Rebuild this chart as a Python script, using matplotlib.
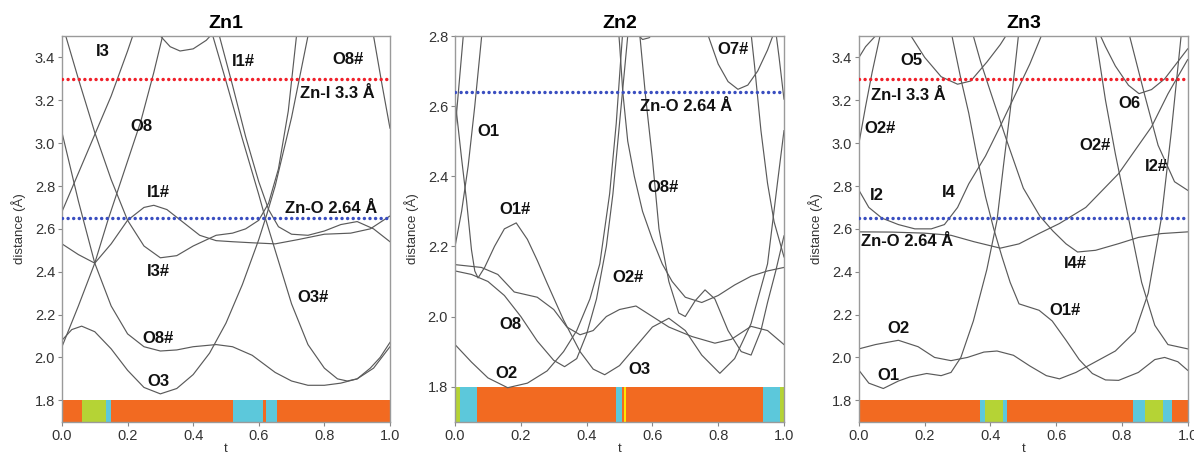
import matplotlib
matplotlib.use("Agg")
import matplotlib.pyplot as plt

plt.rcParams['font.family'] = ['Liberation Sans', 'DejaVu Sans']

# ---------------- Zn1 curves (t, distance) ----------------
zn1_i3_t = [0, 0.05, 0.1, 0.15, 0.2, 0.25, 0.3, 0.35, 0.4, 0.47, 0.52, 0.56, 0.6, 0.63, 0.66, 0.69, 0.715, 0.725]
zn1_i3_d = [3.56, 3.30, 3.05, 2.83, 2.64, 2.52, 2.465, 2.475, 2.52, 2.57, 2.58, 2.6, 2.64, 2.72, 2.88, 3.15, 3.5, 3.6]
zn1_i1_t = [0, 0.05, 0.1, 0.15, 0.2, 0.25, 0.28, 0.32, 0.37, 0.42, 0.47, 0.52, 0.58, 0.65, 0.72, 0.8, 0.88, 0.94, 1.0]
zn1_i1_d = [2.53, 2.48, 2.44, 2.53, 2.64, 2.70, 2.71, 2.69, 2.63, 2.57, 2.545, 2.54, 2.535, 2.53, 2.55, 2.575, 2.58, 2.6, 2.66]
zn1_o8_t = [0, 0.05, 0.1, 0.14, 0.19, 0.24, 0.28, 0.31]
zn1_o8_d = [2.05, 2.24, 2.44, 2.64, 2.87, 3.1, 3.33, 3.52]
zn1_o8h_t = [0, 0.05, 0.1, 0.15, 0.2, 0.25, 0.3, 0.35, 0.4, 0.47, 0.52, 0.58, 0.65, 0.7, 0.75, 0.8, 0.85, 0.9, 0.95, 1.0]
zn1_o8h_d = [3.05, 2.73, 2.44, 2.24, 2.11, 2.05, 2.03, 2.035, 2.05, 2.06, 2.05, 2.01, 1.93, 1.89, 1.87, 1.87, 1.88, 1.9, 1.95, 2.05]
zn1_o3_t = [0, 0.03, 0.06, 0.1, 0.15, 0.2, 0.25, 0.3, 0.35, 0.4, 0.45, 0.5, 0.55, 0.6, 0.625, 0.65, 0.7, 0.75, 0.76]
zn1_o3_d = [2.08, 2.13, 2.146, 2.12, 2.04, 1.94, 1.86, 1.83, 1.855, 1.92, 2.02, 2.16, 2.34, 2.55, 2.67, 2.8, 3.12, 3.5, 3.58]
zn1_o3h_t = [0.44, 0.46, 0.5, 0.55, 0.6, 0.62, 0.65, 0.7, 0.75, 0.8, 0.84, 0.87, 0.9, 0.94, 0.97, 1.0]
zn1_o3h_d = [3.6, 3.5, 3.29, 3.02, 2.76, 2.65, 2.5, 2.25, 2.06, 1.95, 1.9, 1.89, 1.9, 1.95, 2.0, 2.07]
zn1_i1b_t = [0.46, 0.48, 0.52, 0.56, 0.6, 0.63, 0.66, 0.7, 0.75, 0.8, 0.85, 0.9, 0.95, 1.0]
zn1_i1b_d = [3.62, 3.5, 3.27, 3.03, 2.82, 2.69, 2.61, 2.575, 2.57, 2.59, 2.62, 2.634, 2.6, 2.54]
zn1_arc_t = [0.26, 0.3, 0.33, 0.36, 0.4, 0.44, 0.47]
zn1_arc_d = [3.62, 3.5, 3.45, 3.43, 3.44, 3.48, 3.53]
zn1_r1_t = [0, 0.05, 0.1, 0.15, 0.2, 0.22]
zn1_r1_d = [2.68, 2.86, 3.04, 3.22, 3.43, 3.52]
zn1_r2_t = [0.93, 0.95, 0.975, 1.0]
zn1_r2_d = [3.62, 3.5, 3.28, 3.07]

# ---------------- Zn2 curves ----------------
zn2_s1_t = [0, 0.012, 0.025, 0.032]
zn2_s1_d = [2.53, 2.66, 2.8, 2.88]
zn2_s2_t = [0, 0.02, 0.04, 0.06, 0.081, 0.09]
zn2_s2_d = [2.2, 2.3, 2.43, 2.6, 2.8, 2.9]
zn2_o1h_t = [0, 0.02, 0.035, 0.05, 0.06, 0.07, 0.09, 0.12, 0.15, 0.186, 0.22, 0.25, 0.28, 0.33, 0.38, 0.42, 0.455,
             0.5, 0.55, 0.6, 0.65, 0.7, 0.75, 0.805, 0.85, 0.9, 0.95, 0.98, 1.0]
zn2_o1h_d = [2.62, 2.45, 2.33, 2.19, 2.13, 2.11, 2.14, 2.2, 2.25, 2.267, 2.22, 2.16, 2.095, 1.99, 1.9, 1.85, 1.834,
             1.86, 1.915, 1.97, 1.995, 1.96, 1.89, 1.838, 1.88, 1.98, 2.15, 2.38, 2.53]
zn2_o8_t = [0, 0.08, 0.13, 0.18, 0.25, 0.3, 0.34, 0.38, 0.42, 0.46, 0.5, 0.55, 0.6, 0.65, 0.72, 0.79, 0.84, 0.9, 0.95, 1.0]
zn2_o8_d = [2.148, 2.14, 2.12, 2.07, 2.055, 2.02, 1.97, 1.948, 1.96, 2.0, 2.02, 2.03, 2.0, 1.97, 1.943, 1.924, 1.935, 1.972, 1.96, 1.92]
zn2_o2_t = [0, 0.05, 0.1, 0.16, 0.22, 0.28, 0.33, 0.37, 0.41, 0.44, 0.47, 0.49, 0.505, 0.515]
zn2_o2_d = [1.92, 1.87, 1.825, 1.797, 1.81, 1.845, 1.9, 1.96, 2.05, 2.15, 2.35, 2.55, 2.75, 2.88]
zn2_w3_t = [0, 0.05, 0.1, 0.15, 0.2, 0.25, 0.3, 0.333, 0.37, 0.4, 0.43, 0.46, 0.48, 0.5, 0.515, 0.53]
zn2_w3_d = [2.13, 2.12, 2.1, 2.06, 2.0, 1.93, 1.875, 1.857, 1.88, 1.95, 2.05, 2.2, 2.35, 2.55, 2.7, 2.85]
zn2_o8h_t = [0.49, 0.5, 0.51, 0.525, 0.545, 0.57, 0.6, 0.63, 0.66, 0.7, 0.75, 0.8, 0.85, 0.9, 0.95, 1.0]
zn2_o8h_d = [2.9, 2.78, 2.64, 2.5, 2.4, 2.3, 2.22, 2.15, 2.1, 2.055, 2.04, 2.06, 2.09, 2.115, 2.13, 2.14]
zn2_o2h_t = [0.545, 0.562, 0.58, 0.6, 0.62, 0.65, 0.68, 0.7, 0.73, 0.76, 0.79, 0.83, 0.87, 0.9, 0.93, 0.95, 0.975, 1.0]
zn2_o2h_d = [2.95, 2.8, 2.62, 2.45, 2.25, 2.1, 2.01, 2.0, 2.045, 2.076, 2.05, 1.96, 1.9, 1.89, 1.96, 2.04, 2.13, 2.23]
zn2_arc_t = [0.535, 0.55, 0.57, 0.59, 0.605, 0.615]
zn2_arc_d = [2.85, 2.81, 2.79, 2.795, 2.81, 2.85]
zn2_o7_t = [0.755, 0.77, 0.8, 0.83, 0.86, 0.89, 0.92, 0.95, 0.97, 0.985]
zn2_o7_d = [2.86, 2.8, 2.72, 2.67, 2.648, 2.66, 2.7, 2.76, 2.81, 2.86]
zn2_rc_t = [0.895, 0.91, 0.93, 0.95, 0.97, 1.0]
zn2_rc_d = [2.85, 2.72, 2.53, 2.38, 2.27, 2.17]
zn2_rd_t = [0.955, 0.97, 0.985, 1.0]
zn2_rd_d = [3.0, 2.85, 2.74, 2.62]

# ---------------- Zn3 curves ----------------
zn3_arc_t = [0, 0.02, 0.05, 0.07]
zn3_arc_d = [3.4, 3.45, 3.5, 3.54]
zn3_o2hl_t = [0, 0.02, 0.04, 0.064, 0.075]
zn3_o2hl_d = [3.0, 3.17, 3.33, 3.5, 3.58]
zn3_i2_t = [0, 0.03, 0.07, 0.12, 0.17, 0.22, 0.26, 0.3, 0.334, 0.385, 0.43, 0.486, 0.52, 0.56, 0.58]
zn3_i2_d = [2.78, 2.7, 2.65, 2.62, 2.6, 2.6, 2.62, 2.7, 2.81, 2.94, 3.08, 3.26, 3.37, 3.52, 3.6]
zn3_wav_t = [0, 0.1, 0.2, 0.28, 0.35, 0.43, 0.487, 0.55, 0.61, 0.69, 0.79, 0.89, 0.94, 1.0]
zn3_wav_d = [2.586, 2.585, 2.58, 2.57, 2.54, 2.51, 2.53, 2.58, 2.625, 2.70, 2.858, 3.076, 3.23, 3.39]
zn3_o1_t = [0, 0.03, 0.074, 0.12, 0.155, 0.206, 0.25, 0.28, 0.31, 0.348, 0.389, 0.42, 0.44, 0.46, 0.485, 0.495]
zn3_o1_d = [1.94, 1.88, 1.855, 1.89, 1.909, 1.925, 1.915, 1.93, 2.0, 2.17, 2.41, 2.64, 2.9, 3.15, 3.5, 3.6]
zn3_o2_t = [0, 0.05, 0.12, 0.18, 0.23, 0.28, 0.33, 0.38, 0.42, 0.47, 0.52, 0.57, 0.61, 0.66, 0.72, 0.78, 0.84, 0.88, 0.92, 0.95, 0.97, 0.99]
zn3_o2_d = [2.04, 2.06, 2.08, 2.05, 2.0, 1.985, 2.0, 2.025, 2.03, 2.01, 1.96, 1.915, 1.9, 1.93, 1.98, 2.03, 2.12, 2.3, 2.65, 3.05, 3.35, 3.65]
zn3_o1h_t = [0.27, 0.283, 0.31, 0.334, 0.36, 0.385, 0.41, 0.435, 0.46, 0.487, 0.548, 0.588, 0.63, 0.67, 0.71, 0.75, 0.79,
             0.85, 0.9, 0.93, 0.97, 1.0]
zn3_o1h_d = [3.6, 3.5, 3.3, 3.14, 2.93, 2.75, 2.6, 2.47, 2.35, 2.25, 2.22, 2.17, 2.08, 1.99, 1.925, 1.895, 1.893,
             1.93, 1.99, 2.0, 1.98, 1.94]
zn3_i4h_t = [0.33, 0.343, 0.37, 0.4, 0.45, 0.5, 0.55, 0.59, 0.63, 0.665, 0.72, 0.79, 0.85, 0.92, 1.0]
zn3_i4h_d = [3.6, 3.527, 3.38, 3.24, 3.01, 2.79, 2.66, 2.59, 2.53, 2.492, 2.5, 2.531, 2.56, 2.578, 2.586]
zn3_o5_t = [0.14, 0.15, 0.2, 0.25, 0.3, 0.34, 0.39, 0.43, 0.455, 0.47]
zn3_o5_d = [3.58, 3.52, 3.4, 3.31, 3.275, 3.29, 3.38, 3.46, 3.52, 3.56]
zn3_o6_t = [0.72, 0.75, 0.78, 0.82, 0.852, 0.89, 0.93, 0.97, 1.0]
zn3_o6_d = [3.55, 3.45, 3.36, 3.27, 3.231, 3.25, 3.3, 3.38, 3.44]
zn3_d1_t = [0.71, 0.72, 0.75, 0.78, 0.82, 0.86, 0.9, 0.94, 1.0]
zn3_d1_d = [3.6, 3.5, 3.2, 2.95, 2.65, 2.35, 2.15, 2.06, 2.04]
zn3_d2_t = [0.8, 0.82, 0.87, 0.91, 0.96, 1.0]
zn3_d2_d = [3.65, 3.52, 3.22, 2.99, 2.82, 2.78]

# ---------------- coordination colour bars (segment edges / colours) ----------------
ORANGE, GREEN, CYAN, YELLOW = '#F26A21', '#B5D335', '#5CC8DB', '#FFE600'
zn1_bar_edges = [0, 0.06, 0.134, 0.151, 0.52, 0.614, 0.621, 0.657, 1.0]
zn1_bar_cols = [ORANGE, GREEN, CYAN, ORANGE, CYAN, ORANGE, CYAN, ORANGE]
zn2_bar_edges = [0, 0.015, 0.066, 0.489, 0.508, 0.513, 0.521, 0.526, 0.937, 0.988, 1.0]
zn2_bar_cols = [GREEN, CYAN, ORANGE, CYAN, ORANGE, YELLOW, ORANGE, ORANGE, CYAN, GREEN]
zn3_bar_edges = [0, 0.368, 0.383, 0.439, 0.451, 0.835, 0.87, 0.926, 0.951, 1.0]
zn3_bar_cols = [ORANGE, CYAN, GREEN, CYAN, ORANGE, CYAN, GREEN, CYAN, ORANGE]

# ---------------- labels ----------------
zn1_labels = [("I3", 0.125, 3.43), ("I1#", 0.553, 3.38), ("O8#", 0.873, 3.39), ("Zn-I 3.3 Å", 0.84, 3.23),
              ("O8", 0.243, 3.076), ("I1#", 0.293, 2.77), ("Zn-O 2.64 Å", 0.822, 2.696), ("I3#", 0.293, 2.40),
              ("O3#", 0.766, 2.28), ("O8#", 0.293, 2.09), ("O3", 0.293, 1.89)]
zn2_labels = [("O7#", 0.846, 2.762), ("Zn-O 2.64 Å", 0.704, 2.60), ("O1", 0.101, 2.529), ("O8#", 0.633, 2.367),
              ("O1#", 0.182, 2.305), ("O2#", 0.527, 2.11), ("O8", 0.167, 1.976), ("O2", 0.157, 1.838),
              ("O3", 0.562, 1.848)]
zn3_labels = [("O5", 0.16, 3.387), ("Zn-I 3.3 Å", 0.15, 3.224), ("O2#", 0.064, 3.068), ("O6", 0.824, 3.185),
              ("O2#", 0.718, 2.99), ("I2#", 0.906, 2.889), ("I2", 0.054, 2.757), ("I4", 0.272, 2.772),
              ("Zn-O 2.64 Å", 0.145, 2.539), ("I4#", 0.657, 2.438), ("O1#", 0.627, 2.22), ("O2", 0.12, 2.135),
              ("O1", 0.089, 1.917)]

panels = [
    dict(title="Zn1", rect=[0.0519, 0.0711, 0.2747, 0.8496], ylim=(1.7, 3.5),
         yticks=[1.8, 2.0, 2.2, 2.4, 2.6, 2.8, 3.0, 3.2, 3.4],
         curves=[(zn1_i3_t, zn1_i3_d), (zn1_i1_t, zn1_i1_d), (zn1_o8_t, zn1_o8_d), (zn1_o8h_t, zn1_o8h_d),
                 (zn1_o3_t, zn1_o3_d), (zn1_o3h_t, zn1_o3h_d), (zn1_i1b_t, zn1_i1b_d), (zn1_arc_t, zn1_arc_d),
                 (zn1_r1_t, zn1_r1_d), (zn1_r2_t, zn1_r2_d)],
         hlines=[(3.3, '#F0202A'), (2.65, '#3A4EC0')],
         bar=(zn1_bar_edges, zn1_bar_cols), labels=zn1_labels),
    dict(title="Zn2", rect=[0.3811, 0.0711, 0.2755, 0.8496], ylim=(1.7, 2.8),
         yticks=[1.8, 2.0, 2.2, 2.4, 2.6, 2.8],
         curves=[(zn2_s1_t, zn2_s1_d), (zn2_s2_t, zn2_s2_d), (zn2_o1h_t, zn2_o1h_d), (zn2_o8_t, zn2_o8_d),
                 (zn2_o2_t, zn2_o2_d), (zn2_w3_t, zn2_w3_d), (zn2_o8h_t, zn2_o8h_d), (zn2_o2h_t, zn2_o2h_d),
                 (zn2_arc_t, zn2_arc_d), (zn2_o7_t, zn2_o7_d), (zn2_rc_t, zn2_rc_d), (zn2_rd_t, zn2_rd_d)],
         hlines=[(2.64, '#3A4EC0')],
         bar=(zn2_bar_edges, zn2_bar_cols), labels=zn2_labels),
    dict(title="Zn3", rect=[0.7194, 0.0711, 0.2753, 0.8496], ylim=(1.7, 3.5),
         yticks=[1.8, 2.0, 2.2, 2.4, 2.6, 2.8, 3.0, 3.2, 3.4],
         curves=[(zn3_arc_t, zn3_arc_d), (zn3_o2hl_t, zn3_o2hl_d), (zn3_i2_t, zn3_i2_d), (zn3_wav_t, zn3_wav_d),
                 (zn3_o1_t, zn3_o1_d), (zn3_o2_t, zn3_o2_d), (zn3_o1h_t, zn3_o1h_d), (zn3_i4h_t, zn3_i4h_d),
                 (zn3_o5_t, zn3_o5_d), (zn3_o6_t, zn3_o6_d), (zn3_d1_t, zn3_d1_d), (zn3_d2_t, zn3_d2_d)],
         hlines=[(3.3, '#F0202A'), (2.65, '#3A4EC0')],
         bar=(zn3_bar_edges, zn3_bar_cols), labels=zn3_labels),
]

fig = plt.figure(figsize=(11.94, 4.54), dpi=100)
for p in panels:
    ax = fig.add_axes(p['rect'])
    ax.set_xlim(0, 1.0)
    ax.set_ylim(*p['ylim'])
    # colour bar
    edges, cols = p['bar']
    for i, c in enumerate(cols):
        ax.axvspan(edges[i], edges[i + 1], ymin=0.0, ymax=(1.8 - p['ylim'][0]) / (p['ylim'][1] - p['ylim'][0]),
                   facecolor=c, edgecolor='none', zorder=1)
    for t, d in p['curves']:
        ax.plot(t, d, color='#5a5a5a', lw=0.85, zorder=2)
    for y, c in p['hlines']:
        ax.axhline(y, color=c, lw=2.5, linestyle=(0, (0.01, 1.6)), dash_capstyle='round', zorder=3)
    for txt, x, y in p['labels']:
        ax.text(x, y, txt, ha='center', va='center', fontsize=12, fontweight='bold', color='#111111',
                zorder=4, clip_on=False)
    ax.set_xticks([0.0, 0.2, 0.4, 0.6, 0.8, 1.0])
    ax.set_xticklabels(['0.0', '0.2', '0.4', '0.6', '0.8', '1.0'])
    ax.set_yticks(p['yticks'])
    ax.set_yticklabels(['%.1f' % v for v in p['yticks']])
    ax.tick_params(axis='both', direction='out', length=3, width=0.8, color='#888888',
                   labelsize=10.5, labelcolor='#333333', pad=2)
    for s in ax.spines.values():
        s.set_color('#9a9a9a')
        s.set_linewidth(1.0)
    ax.set_title(p['title'], fontsize=14, fontweight='bold', pad=6)
    ax.set_ylabel('distance (Å)', fontsize=9.5, color='#333333', labelpad=6)
    ax.set_xlabel('t', fontsize=9.5, color='#333333', labelpad=0)

fig.savefig('out.png', dpi=100)
